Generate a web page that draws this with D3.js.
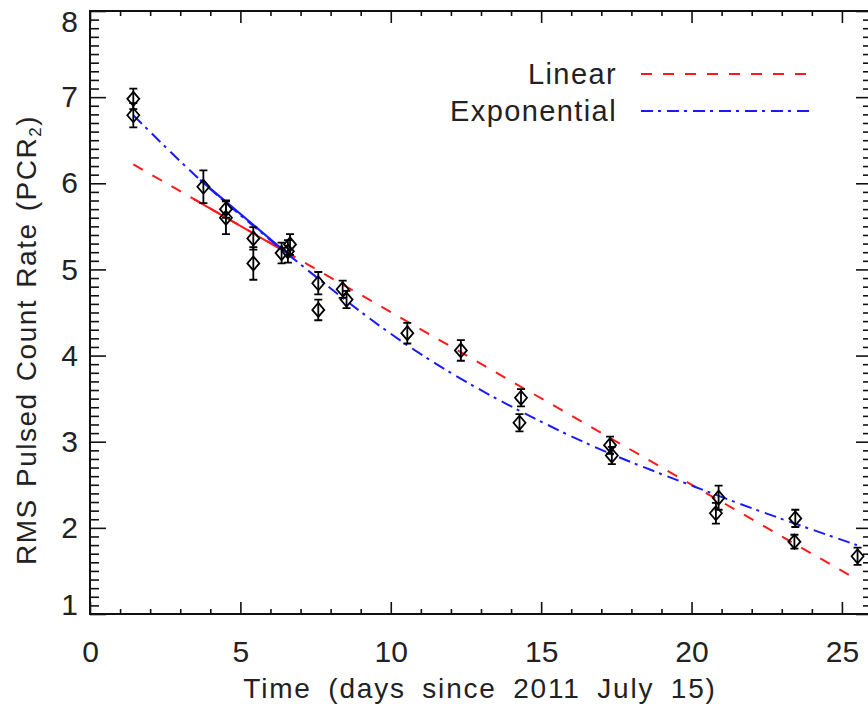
<!DOCTYPE html>
<html>
<head>
<meta charset="utf-8">
<script src="https://cdn.jsdelivr.net/npm/d3@7"></script>
<style>
  body { margin: 0; background: #fff; }
  text { font-family: "Liberation Sans", Arial, sans-serif; fill: #222; }
</style>
</head>
<body>
<div id="chart"></div>
<script>
// measured points (days since 2011 July 15)
const timeDays = [1.44, 1.44, 3.77, 4.52, 4.52, 5.43, 5.43, 6.37, 6.58, 6.65, 7.59, 7.59, 8.40, 8.53,
  10.55, 12.33, 14.33, 14.28, 17.29, 17.35, 20.90, 20.81, 23.45, 23.42, 25.52];
const rateVals = [6.98, 6.79, 5.96, 5.70, 5.60, 5.36, 5.07, 5.19, 5.21, 5.29, 4.84, 4.53, 4.77, 4.65,
  4.26, 4.06, 3.51, 3.22, 2.96, 2.84, 2.35, 2.17, 2.11, 1.84, 1.67];
const rateErr = [0.12, 0.14, 0.19, 0.10, 0.19, 0.13, 0.19, 0.12, 0.13, 0.12, 0.13, 0.12, 0.10, 0.10,
  0.12, 0.12, 0.10, 0.10, 0.10, 0.10, 0.14, 0.12, 0.10, 0.08, 0.10];

// fit curves
const linFitX = [1.44, 25.5];
const linFitY = [6.22, 1.40];
const linSolidX = [3.44, 6.71];
const linSolidY = [5.82, 5.16];
const expFitX = [1.44, 3.66, 6.71, 10.55, 15.6, 20.84, 25.5];
const expFitY = [6.79, 6.04, 5.14, 4.12, 3.13, 2.38, 1.80];
const expSolidX = [3.66, 6.71];
const expSolidY = [6.04, 5.14];

const xTicks = [0, 5, 10, 15, 20, 25];
const yTicks = [1, 2, 3, 4, 5, 6, 7, 8];

const W = 868, H = 709;
const plotL = 90, plotR = 872, plotT = 11, plotB = 614;

const svg = d3.select("#chart").append("svg")
  .attr("width", W).attr("height", H)
  .style("display", "block");

svg.append("rect").attr("width", W).attr("height", H).attr("fill", "#fff");

const x = d3.scaleLinear().domain([0, 26]).range([plotL, plotR]);
const y = d3.scaleLinear().domain([1, 8]).range([plotB, plotT]);

const xMinor = d3.range(0, 27, 1).filter(v => v % 5 !== 0);
const yMinor = d3.range(10, 81, 1).filter(v => v % 10 !== 0).map(v => v / 10);

function styleAxis(g) {
  g.select(".domain").remove();
  g.selectAll(".tick line").attr("stroke", "#111").attr("stroke-width", 1.6);
  g.selectAll(".tick text").attr("font-size", 30).attr("fill", "#222")
    .style("font-family", "'Liberation Sans', Arial, sans-serif");
}

// bottom axis, inward ticks
svg.append("g").attr("transform", `translate(0,${plotB})`)
  .call(d3.axisBottom(x).tickValues(xTicks).tickSizeInner(-12).tickSizeOuter(0).tickPadding(27).tickFormat(d3.format("d")))
  .call(styleAxis);
svg.append("g").attr("transform", `translate(0,${plotB})`)
  .call(d3.axisBottom(x).tickValues(xMinor).tickSizeInner(-5).tickSizeOuter(0).tickFormat(""))
  .call(styleAxis);

// top axis
svg.append("g").attr("transform", `translate(0,${plotT})`)
  .call(d3.axisTop(x).tickValues(xTicks).tickSizeInner(-12).tickSizeOuter(0).tickFormat(""))
  .call(styleAxis);
svg.append("g").attr("transform", `translate(0,${plotT})`)
  .call(d3.axisTop(x).tickValues(xMinor).tickSizeInner(-5).tickSizeOuter(0).tickFormat(""))
  .call(styleAxis);

// left axis
const yAxisG = svg.append("g").attr("transform", `translate(${plotL},0)`)
  .call(d3.axisLeft(y).tickValues(yTicks).tickSizeInner(-16).tickSizeOuter(0).tickPadding(12).tickFormat(d3.format("d")))
  .call(styleAxis);
// end labels are nudged inside the frame, as in the original
yAxisG.selectAll(".tick text").filter(d => d === 1).attr("y", -9);
yAxisG.selectAll(".tick text").filter(d => d === 8).attr("y", 11);
svg.append("g").attr("transform", `translate(${plotL},0)`)
  .call(d3.axisLeft(y).tickValues(yMinor).tickSizeInner(-9).tickSizeOuter(0).tickFormat(""))
  .call(styleAxis);

// right axis
svg.append("g").attr("transform", `translate(${plotR},0)`)
  .call(d3.axisRight(y).tickValues(yTicks).tickSizeInner(-16).tickSizeOuter(0).tickFormat(""))
  .call(styleAxis);
svg.append("g").attr("transform", `translate(${plotR},0)`)
  .call(d3.axisRight(y).tickValues(yMinor).tickSizeInner(-9).tickSizeOuter(0).tickFormat(""))
  .call(styleAxis);

// frame
svg.append("rect")
  .attr("x", plotL).attr("y", plotT)
  .attr("width", plotR - plotL).attr("height", plotB - plotT)
  .attr("fill", "none").attr("stroke", "#111").attr("stroke-width", 2);

// fit lines
const line = d3.line().x(d => x(d[0])).y(d => y(d[1]));
const curve = d3.line().x(d => x(d[0])).y(d => y(d[1])).curve(d3.curveMonotoneX);

const RED = "#ff1a1a", BLUE = "#1a1aff";
const DASH = "11,11", DASHDOT = "12,5,3,6";

svg.append("path")
  .datum(d3.zip(linFitX, linFitY))
  .attr("d", line)
  .attr("fill", "none").attr("stroke", RED).attr("stroke-width", 2)
  .attr("stroke-dasharray", DASH);
svg.append("path")
  .datum(d3.zip(linSolidX, linSolidY))
  .attr("d", line)
  .attr("fill", "none").attr("stroke", RED).attr("stroke-width", 2);

svg.append("path")
  .datum(d3.zip(expFitX, expFitY))
  .attr("d", curve)
  .attr("fill", "none").attr("stroke", BLUE).attr("stroke-width", 2)
  .attr("stroke-dasharray", DASHDOT);
svg.append("path")
  .datum(d3.zip(expSolidX, expSolidY))
  .attr("d", line)
  .attr("fill", "none").attr("stroke", BLUE).attr("stroke-width", 2.2);

// data: error bars + diamonds
const pts = timeDays.map((t, i) => ({ t, v: rateVals[i], e: rateErr[i] }));
const pg = svg.append("g").attr("stroke", "#000").attr("stroke-width", 1.8).attr("fill", "none");

pg.selectAll(".err").data(pts).enter().append("path")
  .attr("class", "err")
  .attr("d", d => {
    const cx = x(d.t), y0 = y(d.v - d.e), y1 = y(d.v + d.e);
    return `M${cx},${y0}V${y1}M${cx - 4},${y0}H${cx + 4}M${cx - 4},${y1}H${cx + 4}`;
  });

pg.selectAll(".dia").data(pts).enter().append("path")
  .attr("class", "dia")
  .attr("d", d => {
    const cx = x(d.t), cy = y(d.v);
    return `M${cx},${cy - 7}L${cx + 6},${cy}L${cx},${cy + 7}L${cx - 6},${cy}Z`;
  });

// legend
const legend = [
  { label: "Linear", color: RED, dash: DASH, ty: 84, ly: 74 },
  { label: "Exponential", color: BLUE, dash: DASHDOT, ty: 121, ly: 111 }
];
legend.forEach(l => {
  svg.append("text")
    .attr("x", 617).attr("y", l.ty)
    .attr("text-anchor", "end")
    .attr("font-size", 29)
    .attr("letter-spacing", 1.4)
    .text(l.label);
  svg.append("line")
    .attr("x1", 641).attr("x2", 811)
    .attr("y1", l.ly).attr("y2", l.ly)
    .attr("stroke", l.color).attr("stroke-width", 2)
    .attr("stroke-dasharray", l.dash);
});

// axis titles
svg.append("text")
  .attr("x", 480).attr("y", 698)
  .attr("text-anchor", "middle")
  .attr("font-size", 28)
  .attr("letter-spacing", 1.8)
  .attr("word-spacing", 7)
  .text("Time (days since 2011 July 15)");

const yt = svg.append("text")
  .attr("transform", "translate(36,340) rotate(-90)")
  .attr("text-anchor", "middle")
  .attr("font-size", 28)
  .attr("letter-spacing", 1.5)
  .attr("word-spacing", 2);
yt.append("tspan").text("RMS Pulsed Count Rate (PCR");
yt.append("tspan").attr("font-size", 17).attr("dy", 5).text("2");
yt.append("tspan").attr("dy", -5).text(")");
</script>
</body>
</html>
